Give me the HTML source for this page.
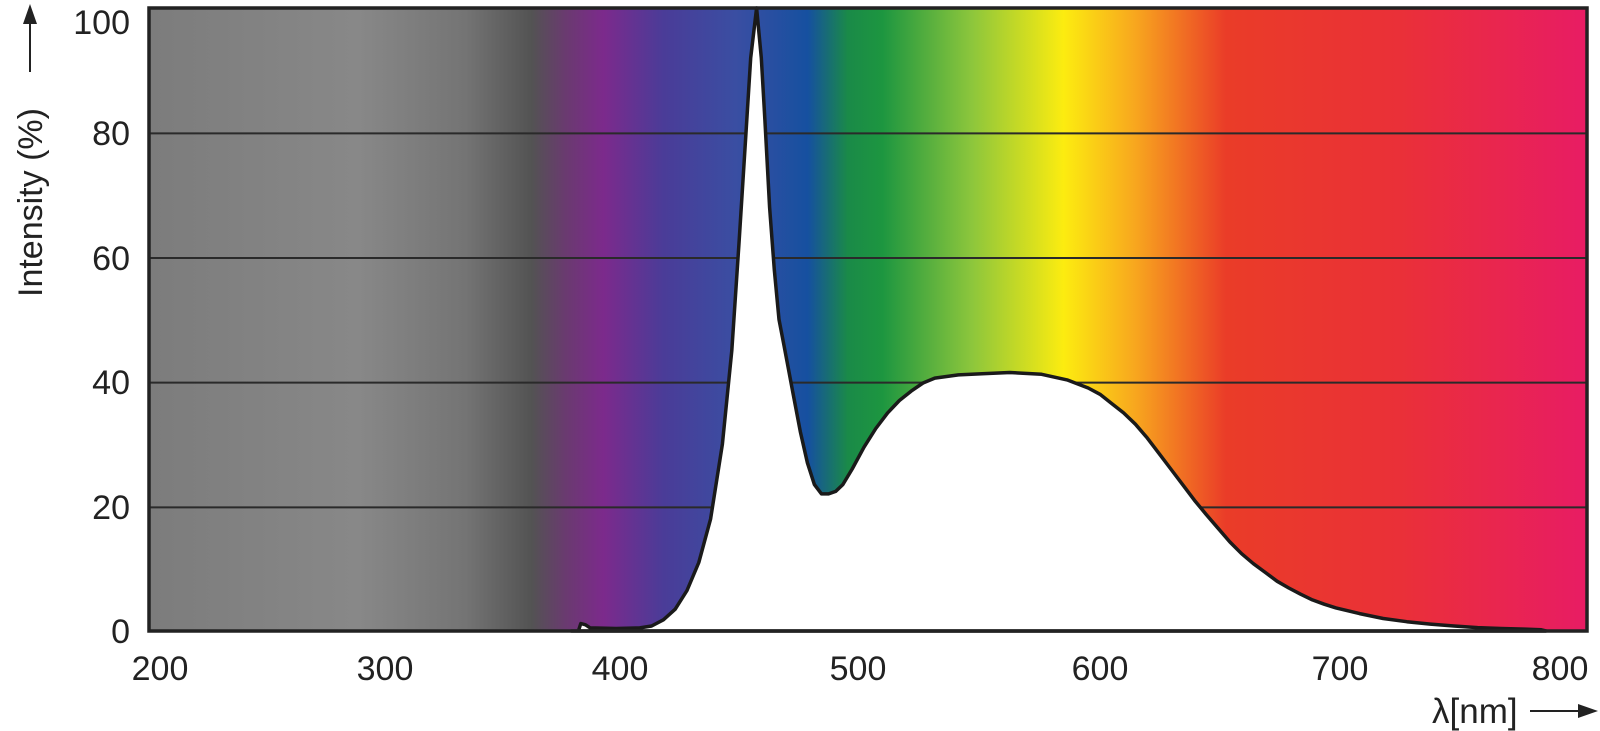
<!DOCTYPE html>
<html><head><meta charset="utf-8"><style>
html,body{margin:0;padding:0;background:#fff;}
svg{display:block;font-family:"Liberation Sans",Arial,sans-serif;}
</style></head><body>
<svg id="s" width="1600" height="731" viewBox="0 0 1600 731" xmlns="http://www.w3.org/2000/svg">
<defs>
<linearGradient id="g" x1="149" x2="1587" y1="0" y2="0" gradientUnits="userSpaceOnUse">
<stop offset="0" stop-color="#7c7c7c"/>
<stop offset="0.145" stop-color="#888888"/>
<stop offset="0.22" stop-color="#747474"/>
<stop offset="0.266" stop-color="#535353"/>
<stop offset="0.29" stop-color="#6a3a70"/>
<stop offset="0.316" stop-color="#7c2a8c"/>
<stop offset="0.358" stop-color="#4a3c98"/>
<stop offset="0.408" stop-color="#3a4ea2"/>
<stop offset="0.458" stop-color="#1650a0"/>
<stop offset="0.486" stop-color="#1a8a48"/>
<stop offset="0.51" stop-color="#1d9640"/>
<stop offset="0.572" stop-color="#8cc63c"/>
<stop offset="0.636" stop-color="#fcec10"/>
<stop offset="0.685" stop-color="#f8a81e"/>
<stop offset="0.749" stop-color="#ea3c28"/>
<stop offset="0.87" stop-color="#ea3038"/>
<stop offset="1" stop-color="#e81c64"/>
</linearGradient>
</defs>
<rect x="149" y="8" width="1438" height="623" fill="url(#g)"/>
<g stroke="#2a2a2a" stroke-width="2">
<line x1="149" x2="1587" y1="133.4" y2="133.4"/>
<line x1="149" x2="1587" y1="258" y2="258"/>
<line x1="149" x2="1587" y1="382.6" y2="382.6"/>
<line x1="149" x2="1587" y1="507.4" y2="507.4"/>
</g>
<path id="c" fill="#fff" stroke="#1a1a1a" stroke-width="3.5" stroke-linejoin="round" d=""/>
<rect x="149" y="8" width="1438" height="623" fill="none" stroke="#222" stroke-width="3.5"/>
<g font-size="34" fill="#222" text-anchor="end">
<text x="130" y="34">100</text>
<text x="130" y="145">80</text>
<text x="130" y="270">60</text>
<text x="130" y="394">40</text>
<text x="130" y="519">20</text>
<text x="130" y="643">0</text>
</g>
<g font-size="34" fill="#222" text-anchor="middle">
<text x="160" y="680">200</text>
<text x="385" y="680">300</text>
<text x="620" y="680">400</text>
<text x="858" y="680">500</text>
<text x="1100" y="680">600</text>
<text x="1340" y="680">700</text>
<text x="1560" y="680">800</text>
</g>
<text x="1432" y="723" font-size="35" fill="#222">λ[nm]</text>
<line x1="1530" x2="1582" y1="711" y2="711" stroke="#222" stroke-width="2"/>
<polygon points="1598,711 1578,704 1578,718" fill="#222"/>
<g transform="translate(42,297) rotate(-90)">
<text x="0" y="0" font-size="34" fill="#222">Intensity (%)</text>
</g>
<line x1="30" x2="30" y1="72" y2="20" stroke="#222" stroke-width="2"/>
<polygon points="30,4 23,24 37,24" fill="#222"/>
</svg>
<script>
var d=[[376,0],[379,0],[380,1.2],[382,1],[384,0.5],[395,0.4],[405,0.5],[410,0.8],[415,1.8],[420,3.5],[425,6.5],[430,11],[435,18],[440,30],[444,45],[447,62],[450,80],[452,92],[454.5,100],[456.5,92],[458,82],[460,68],[462,58],[464,50],[466,46],[468,42],[470,38],[473,32],[476,27],[479,23.5],[482,22],[485,22],[488,22.4],[491,23.5],[495,26],[500,29.5],[505,32.5],[510,35],[515,37],[520,38.5],[525,39.8],[530,40.6],[540,41.1],[550,41.3],[560,41.5],[570,41.2],[578,40.3],[585,39],[590,38],[595,36.5],[600,35],[605,33.2],[610,31],[615,28.5],[620,26],[625,23.5],[630,21],[635,18.7],[640,16.5],[645,14.3],[650,12.4],[655,10.8],[660,9.4],[665,8],[670,6.9],[675,5.9],[680,5],[685,4.3],[690,3.7],[700,2.8],[710,2],[720,1.5],[730,1.1],[740,0.8],[750,0.55],[760,0.4],[770,0.3],[777,0.2],[779,0]];
function sh(l){if(l<=555)return l;return l+Math.min(10,(l-555)*0.35);}
function X(l){return 156+(sh(l)-200)*2.36;}
function Y(v){return 631-v*6.23;}
var p="M"+X(d[0][0])+","+Y(0);
d.forEach(function(q){p+=" L"+X(q[0]).toFixed(1)+","+Y(q[1]).toFixed(1);});
p+=" Z";
document.getElementById("c").setAttribute("d",p);
</script>
</body></html>
